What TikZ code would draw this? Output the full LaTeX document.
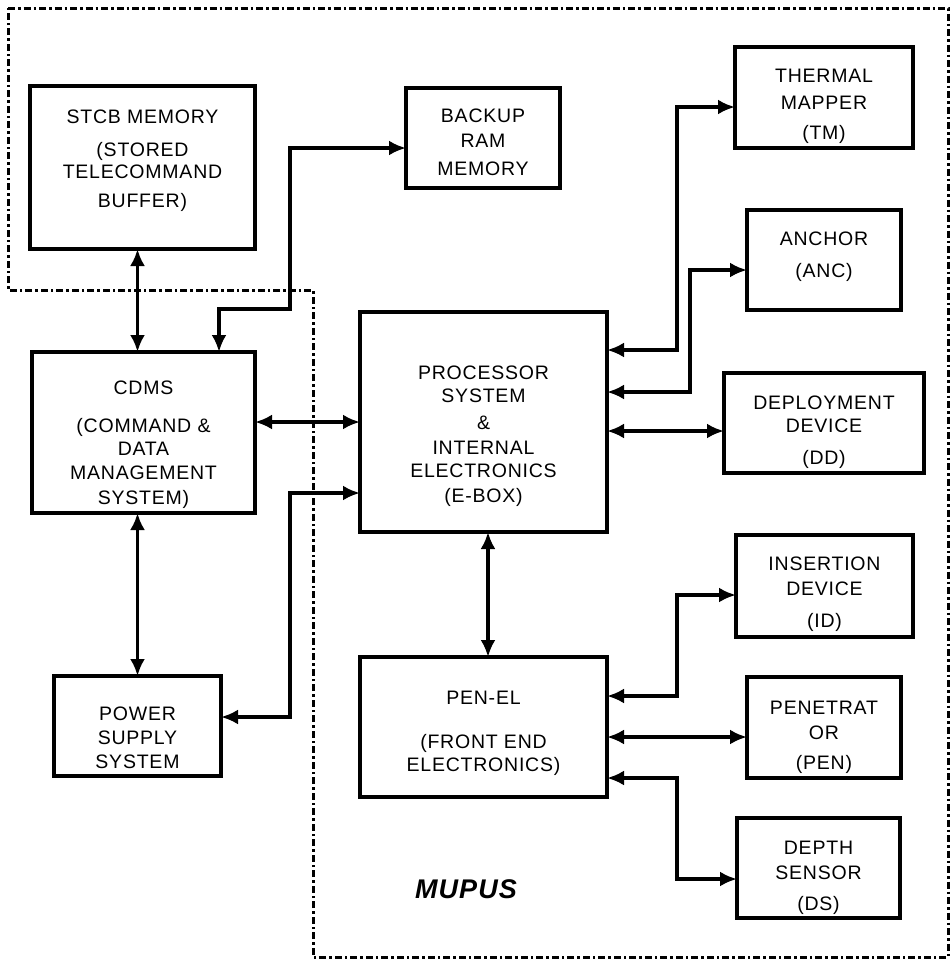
\documentclass[tikz,border=0pt]{standalone}
\usepackage{fontspec}
\usetikzlibrary{arrows.meta}
\newfontfamily\lab[LetterSpace=4]{Liberation Sans}
\newfontfamily\labbi[LetterSpace=4]{Liberation Sans}
\newcommand\boxtext[3]{\foreach \yy/\tt [count=\i] in {#3} {\node[lbl] (#1-\i) at (#2,\yy) {\tt};}}
\begin{document}
\begin{tikzpicture}[x=1pt,y=-1pt,
  box/.style={draw, line width=3.2pt, inner sep=0pt, outer sep=0pt},
  lbl/.style={inner sep=0pt, text height=14pt, text depth=0pt, font=\lab\fontsize{19.5pt}{23pt}\selectfont},
  con/.style={line width=3.8pt, line join=miter, {Latex[length=17pt,width=15pt]}-{Latex[length=17pt,width=15pt]}},
  border/.style={line width=3pt, dash pattern=on 7pt off 3pt on 2.5pt off 3pt}
]
\useasboundingbox (0,0) rectangle (951,962);
\fill[white] (0,0) rectangle (951,962);
% MUPUS boundary
\draw[border] (8,8) -- (948,8) -- (948,957) -- (313,957) -- (313,290) -- (8,290) -- cycle;
% boxes
\node[box, minimum width=225pt, minimum height=163pt] (stcb) at (142.5,167.5) {};
\node[box, minimum width=154pt, minimum height=100pt] (backup) at (483,138) {};
\node[box, minimum width=178pt, minimum height=101pt] (tm) at (824,97.5) {};
\node[box, minimum width=154pt, minimum height=100pt] (anc) at (824,260) {};
\node[box, minimum width=200pt, minimum height=100pt] (dd) at (824,423) {};
\node[box, minimum width=247pt, minimum height=220pt] (proc) at (483.5,422) {};
\node[box, minimum width=223pt, minimum height=161pt] (cdms) at (143.5,432.5) {};
\node[box, minimum width=167pt, minimum height=100pt] (power) at (137.5,726) {};
\node[box, minimum width=247pt, minimum height=140pt] (penel) at (483.5,727) {};
\node[box, minimum width=177pt, minimum height=102pt] (id) at (824.5,586) {};
\node[box, minimum width=154pt, minimum height=101pt] (pen) at (824,727.5) {};
\node[box, minimum width=163pt, minimum height=100pt] (ds) at (818.5,868) {};
% texts
\boxtext{stcbt}{142.5}{116/STCB MEMORY, 149/(STORED, 171/TELECOMMAND, 200/BUFFER)}
\boxtext{backupt}{483}{115/BACKUP, 140/RAM, 168/MEMORY}
\boxtext{tmt}{824}{75/THERMAL, 102/MAPPER, 132/(TM)}
\boxtext{anct}{824}{238/ANCHOR, 270/(ANC)}
\boxtext{ddt}{824}{402/DEPLOYMENT, 425/DEVICE, 457/(DD)}
\boxtext{proct}{483.5}{372/PROCESSOR, 395/SYSTEM, 422/\&, 447/INTERNAL, 470/ELECTRONICS, 495/(E-BOX)}
\boxtext{cdmst}{143.5}{387/CDMS, 425/(COMMAND \&, 448/DATA, 472/MANAGEMENT, 497/SYSTEM)}
\boxtext{powert}{137.5}{713/POWER, 737/SUPPLY, 761/SYSTEM}
\boxtext{penelt}{483.5}{697/PEN-EL, 741/(FRONT END, 764/ELECTRONICS)}
\boxtext{idt}{824.5}{563/INSERTION, 588/DEVICE, 620/(ID)}
\boxtext{pent}{824}{707/PENETRAT, 732/OR, 762/(PEN)}
\boxtext{dst}{818.5}{847/DEPTH, 872/SENSOR, 903/(DS)}
\node[inner sep=0pt, text height=20pt, text depth=0pt, font=\labbi\fontsize{27pt}{30pt}\selectfont\bfseries\itshape] (mupus) at (466,888) {MUPUS};
% connectors
\draw[con] (stcb.south -| power.north) -- (cdms.north -| power.north);
\draw[con] (cdms.south -| power.north) -- (power.north);
\draw[con] ([xshift=75.5pt]cdms.north) -- ++(0,43pt) -| (290,148) -- ([yshift=-10pt]backup.west);
\draw[con] (cdms.east |- proc.west) -- (proc.west);
\draw[con] ([yshift=9pt]power.east) -- ++(69pt,0) |- ([yshift=-71pt]proc.west);
\draw[con] ([xshift=4.5pt]proc.south) -- ([xshift=4.5pt]penel.north);
\draw[con] ([yshift=72pt]proc.east) -- ++(70pt,0) |- ([yshift=-9.5pt]tm.west);
\draw[con] ([yshift=30pt]proc.east) -- ++(83pt,0) |- ([yshift=-10pt]anc.west);
\draw[con] ([yshift=-9pt]proc.east) -- (dd.west |- 0,431);
\draw[con] ([yshift=31pt]penel.east) -- ++(70pt,0) |- ([yshift=-9pt]id.west);
\draw[con] ([yshift=-10pt]penel.east) -- (pen.west |- 0,737);
\draw[con] ([yshift=-51pt]penel.east) -- ++(70pt,0) |- ([yshift=-11pt]ds.west);
\end{tikzpicture}
\end{document}
